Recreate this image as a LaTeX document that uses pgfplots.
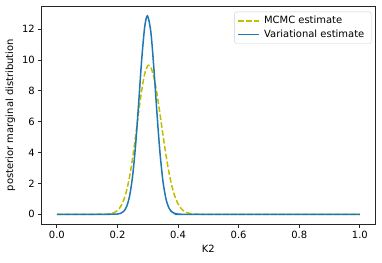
\documentclass[border=0pt]{standalone}
\usepackage{pgfplots}
\pgfplotsset{compat=1.18}
\usepackage{fontspec}
\setmainfont{DejaVu Sans}
\definecolor{mcmc}{rgb}{0.75,0.75,0}
\definecolor{mplblue}{HTML}{1F77B4}
\definecolor{spine}{HTML}{262626}
\begin{document}
\begin{tikzpicture}
\path[use as bounding box] (-41.7bp,-38bp) rectangle (340bp,224bp);
\begin{axis}[
  scale only axis, width=333bp, height=218bp,
  xmin=-0.05, xmax=1.05, ymin=-0.643, ymax=13.5,
  xtick={0,0.2,0.4,0.6,0.8,1.0}, ytick={0,2,4,6,8,10,12},
  xticklabels={0.0,0.2,0.4,0.6,0.8,1.0},
  tick align=outside, tick pos=left, major tick length=3.5bp,
  every tick/.style={spine, line width=0.8bp},
  axis line style={spine, line width=0.8bp},
  /pgf/number format/assume math mode=true,
  tick label style={font=\fontsize{10}{12}\selectfont, text=black},
  label style={font=\fontsize{10}{12}\selectfont},
  xlabel={K2}, ylabel={posterior marginal distribution},
  xlabel style={at={(axis description cs:0.5,0)}, anchor=north, yshift=-17bp},
  ylabel style={at={(axis description cs:0,0.5)}, anchor=south, yshift=23bp},
  legend style={at={(rel axis cs:1,1)}, anchor=north east, xshift=-3.5bp, yshift=-5.7bp,
    draw=black!20, rounded corners=2bp, font=\fontsize{10}{12}\selectfont,
    inner xsep=3bp, inner ysep=2.5bp, row sep=0.5bp, nodes={inner xsep=4bp}},
  legend cell align=left,
  legend image code/.code={\draw[#1] (0bp,0bp) -- (21bp,0bp);},
]
\addplot[mcmc, line width=1.5bp, dash pattern=on 5.55bp off 2.4bp, smooth, tension=0.5] coordinates {
(0,0) (0.10,0) (0.14,0.001) (0.15,0.003) (0.16,0.008) (0.17,0.021) (0.18,0.051) (0.19,0.116)
(0.20,0.245) (0.21,0.483) (0.22,0.89) (0.23,1.53) (0.24,2.44) (0.25,3.65)
(0.26,5.09) (0.27,6.63) (0.28,8.04) (0.29,9.11) (0.30,9.63) (0.303,9.66)
(0.31,9.53) (0.32,8.90) (0.33,7.86) (0.34,6.55) (0.35,5.17) (0.36,3.85)
(0.37,2.71) (0.38,1.80) (0.39,1.13) (0.40,0.671) (0.41,0.376) (0.42,0.199)
(0.43,0.100) (0.44,0.047) (0.45,0.021) (0.46,0.009) (0.48,0.001) (0.52,0) (1,0)
};
\addlegendentry{MCMC estimate}
\addplot[mplblue, line width=1.5bp, smooth, tension=0.5] coordinates {
(0,0) (0.15,0) (0.18,0.001) (0.19,0.004) (0.20,0.016) (0.21,0.056) (0.22,0.178) (0.23,0.491)
(0.24,1.18) (0.25,2.48) (0.26,4.53) (0.27,7.22) (0.28,10.04) (0.29,12.16)
(0.299,12.86) (0.31,11.84) (0.32,9.50) (0.33,6.65) (0.34,4.06) (0.35,2.16)
(0.36,1.00) (0.37,0.405) (0.38,0.143) (0.39,0.044) (0.40,0.012) (0.41,0.003)
(0.43,0) (1,0)
};
\addlegendentry{Variational estimate}
\end{axis}
\end{tikzpicture}
\end{document}
